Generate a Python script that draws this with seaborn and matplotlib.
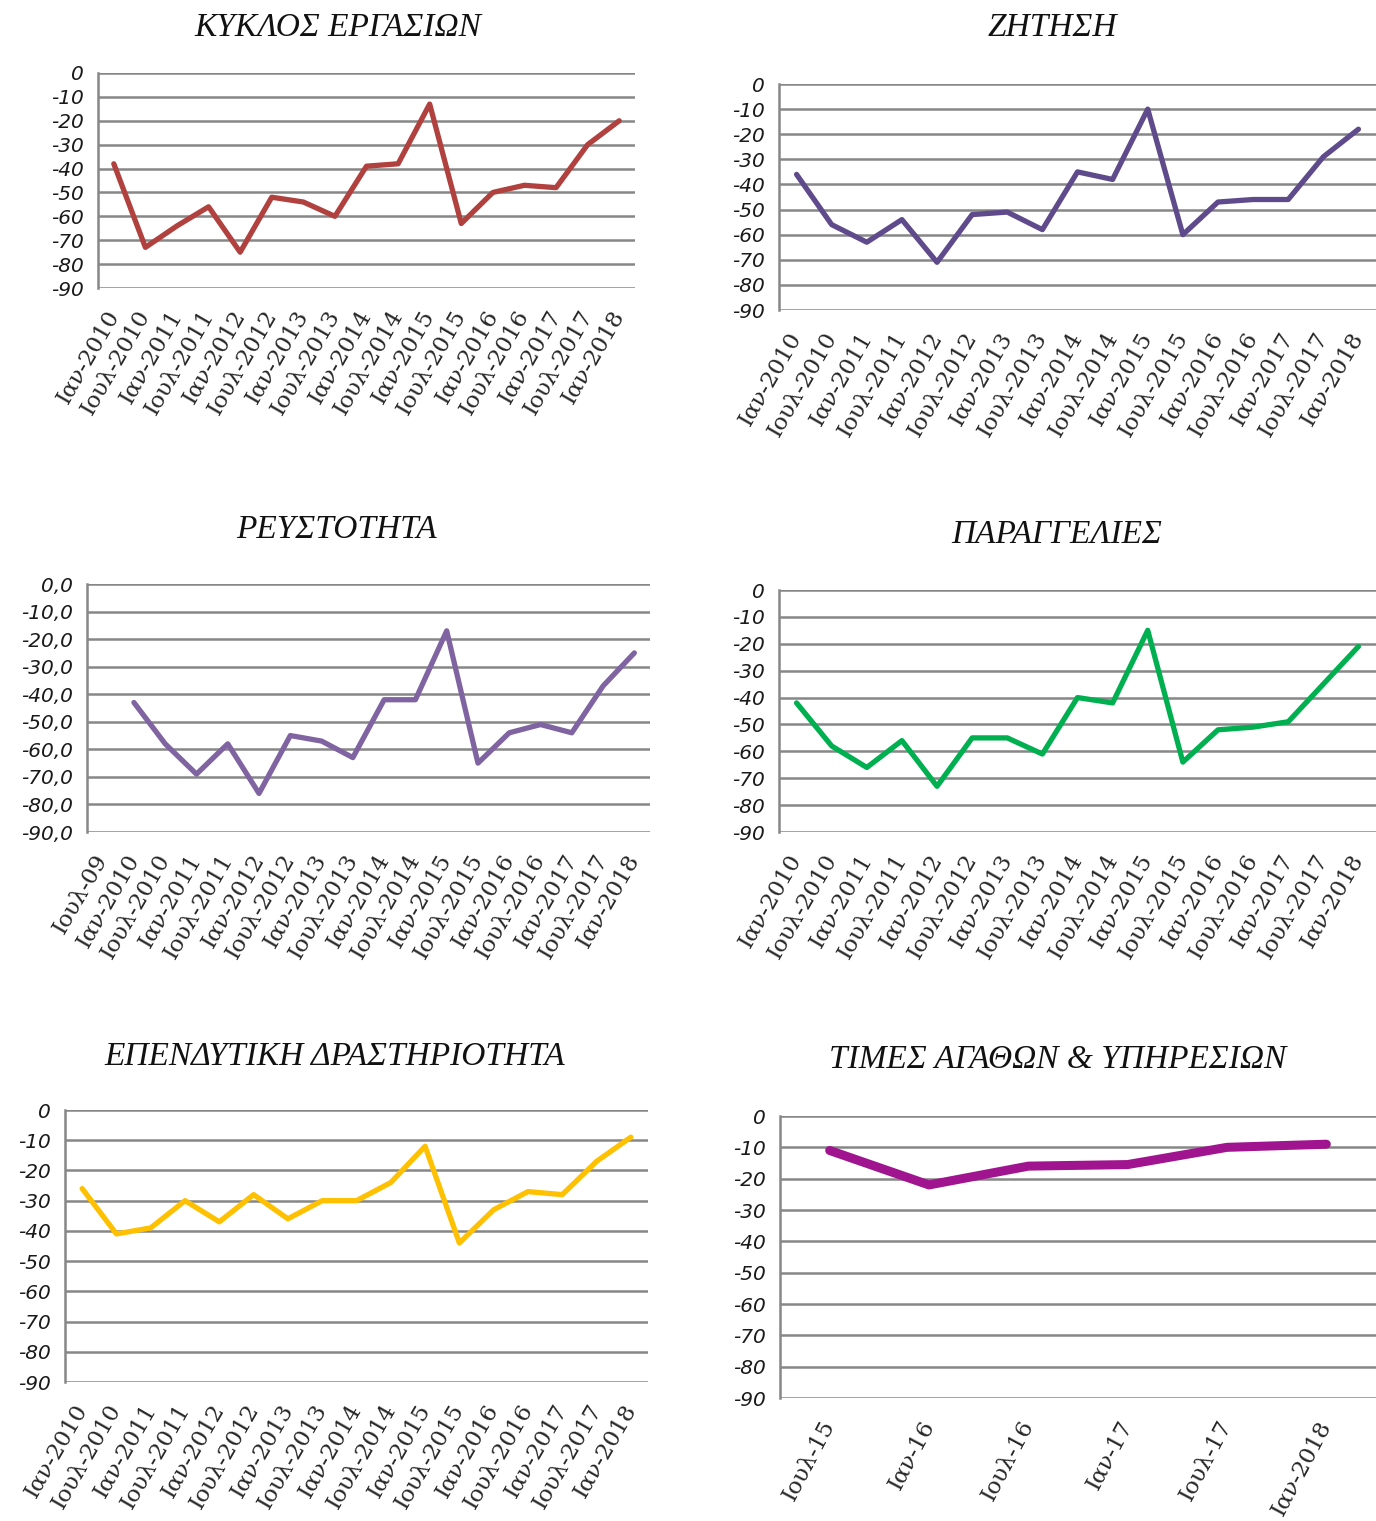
import numpy as np
import pandas as pd
import matplotlib
matplotlib.use("Agg")
import matplotlib.pyplot as plt
import seaborn as sns

# ---------------------------
# Data
# ---------------------------

semi_labels = ["Ιαν-2010", "Ιουλ-2010", "Ιαν-2011", "Ιουλ-2011", "Ιαν-2012", "Ιουλ-2012",
               "Ιαν-2013", "Ιουλ-2013", "Ιαν-2014", "Ιουλ-2014", "Ιαν-2015", "Ιουλ-2015",
               "Ιαν-2016", "Ιουλ-2016", "Ιαν-2017", "Ιουλ-2017", "Ιαν-2018"]
liquidity_labels = ["Ιουλ-09"] + semi_labels
prices_labels = ["Ιουλ-15", "Ιαν-16", "Ιουλ-16", "Ιαν-17", "Ιουλ-17", "Ιαν-2018"]

business_cycle = [-38, -73, -64, -56, -75, -52, -54, -60, -39, -38, -13, -63, -50, -47, -48, -30, -20]
demand = [-36, -56, -63, -54, -71, -52, -51, -58, -35, -38, -10, -60, -47, -46, -46, -29, -18]
liquidity = [np.nan, -43, -58, -69, -58, -76, -55, -57, -63, -42, -42, -17, -65, -54, -51, -54, -37, -25]
orders = [-42, -58, -66, -56, -73, -55, -55, -61, -40, -42, -15, -64, -52, -51, -49, -35, -21]
investment = [-26, -41, -39, -30, -37, -28, -36, -30, -30, -24, -12, -44, -33, -27, -28, -17, -9]
prices = [-11, -22, -16, -15.5, -10, -9]

panels = [
    # title, labels, values, colour, line width, decimal labels
    ("ΚΥΚΛΟΣ ΕΡΓΑΣΙΩΝ", semi_labels, business_cycle, "#B0413E", 3.8, False),
    ("ΖΗΤΗΣΗ", semi_labels, demand, "#5F4B8B", 3.8, False),
    ("ΡΕΥΣΤΟΤΗΤΑ", liquidity_labels, liquidity, "#8064A2", 3.8, True),
    ("ΠΑΡΑΓΓΕΛΙΕΣ", semi_labels, orders, "#00B050", 3.8, False),
    ("ΕΠΕΝΔΥΤΙΚΗ ΔΡΑΣΤΗΡΙΟΤΗΤΑ", semi_labels, investment, "#FFC000", 3.8, False),
    ("ΤΙΜΕΣ ΑΓΑΘΩΝ & ΥΠΗΡΕΣΙΩΝ", prices_labels, prices, "#A0158F", 6.5, False),
]

# axes rectangles in pixels: left, top, right, bottom ; title centre x, y
W, H = 1376, 1521
boxes = [
    ((98, 73, 635, 288), (338, 28)),
    ((779, 84, 1376, 310), (1052, 28)),
    ((87, 584, 650, 832), (336, 530)),
    ((779, 590, 1376, 832), (1057, 535)),
    ((65, 1110, 648, 1382), (335, 1057)),
    ((780, 1116, 1376, 1398), (1058, 1060)),
]

# ---------------------------
# Plot
# ---------------------------

sns.set_style("white")
plt.rcParams["font.family"] = ["DejaVu Sans"]

fig = plt.figure(figsize=(W / 100, H / 100), dpi=100)

for (title, labels, values, colour, lw, decimals), ((l, t, r, b), (tx, ty)) in zip(panels, boxes):
    ax = fig.add_axes([l / W, 1 - b / H, (r - l) / W, (b - t) / H])
    df = pd.DataFrame({"x": np.arange(len(labels)), "y": values})
    sns.lineplot(data=df.dropna(), x="x", y="y", ax=ax, color=colour, linewidth=lw)

    ax.set_xlim(-0.5, len(labels) - 0.5)
    ax.set_ylim(-90, 0)
    ticks = np.arange(-90, 1, 10)
    ax.set_yticks(ticks)
    if decimals:
        ax.set_yticklabels([f"{v:.1f}".replace(".", ",") for v in ticks])
    else:
        ax.set_yticklabels([f"{v}" for v in ticks])
    for lab in ax.get_yticklabels():
        lab.set_fontstyle("italic")
        lab.set_fontsize(14.5)
        lab.set_color("#1a1a1a")

    rot = 62 if len(labels) < 10 else 60
    ax.set_xticks(np.arange(len(labels)))
    ax.set_xticklabels(labels, rotation=rot, ha="right", va="center",
                       rotation_mode="anchor", fontsize=16.5,
                       family="DejaVu Serif")
    ax.tick_params(axis="x", length=0, pad=17)
    ax.tick_params(axis="y", length=0, pad=10)

    ax.grid(axis="y", color="#878787", linewidth=1.8)
    ax.set_axisbelow(True)
    for side in ["top", "right", "bottom"]:
        ax.spines[side].set_visible(False)
    ax.spines["left"].set_color("#878787")
    ax.spines["left"].set_linewidth(1.8)
    ax.set_xlabel("")
    ax.set_ylabel("")

    fig.text(tx / W, 1 - ty / H, title, ha="center", va="center",
             fontsize=24, fontstyle="italic", family="Liberation Serif",
             color="#111111")

fig.savefig("out.png", dpi=100)
